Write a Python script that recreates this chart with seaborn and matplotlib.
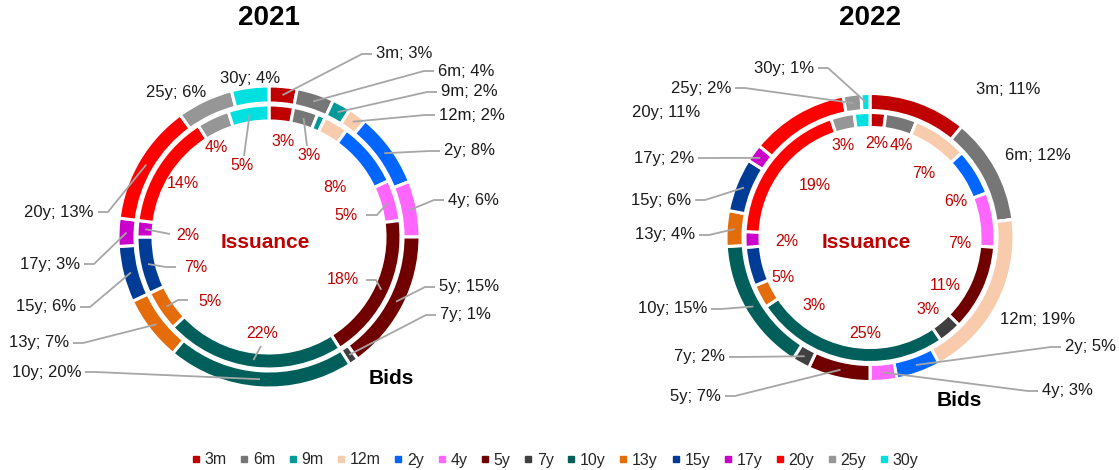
import numpy as np
import matplotlib
matplotlib.use('Agg')
import matplotlib.pyplot as plt
import seaborn as sns
from matplotlib.lines import Line2D

sns.set_theme(style='white')
plt.rcParams['font.family'] = ['Liberation Sans', 'DejaVu Sans']

# Data: share of bids (outer ring) and issuance (inner ring) by tenor, in %
tenors = ['3m', '6m', '9m', '12m', '2y', '4y', '5y', '7y', '10y', '13y', '15y', '17y', '20y', '25y', '30y']
bids_2021 = [3, 4, 2, 2, 8, 6, 15, 1, 20, 7, 6, 3, 13, 6, 4]
issuance_2021 = [3, 3, 1, 3, 8, 5, 18, 0, 22, 5, 7, 2, 14, 4, 5]
bids_2022 = [11, 12, 0, 19, 5, 3, 7, 2, 15, 4, 6, 2, 11, 2, 1]
issuance_2022 = [2, 4, 0, 7, 6, 7, 11, 3, 25, 3, 5, 2, 19, 3, 2]

tenor_colors = ['#C00000', '#767676', '#009999', '#F8CBAD', '#0066FF', '#FF66FF', '#700000', '#404040',
                '#005F5A', '#E46C0A', '#003C96', '#CC00CC', '#FF0000', '#969696', '#00E0E0']
palette = sns.color_palette(tenor_colors)

W, H = 1119, 470
LEAD = '#A6A6A6'
RED = '#C00000'

# Layout (pixel positions, top-left origin) for the data labels
# value: (x, y, ha, leader) ; leader = 'auto', None, or list of points from label side
label_layout = {
    ('2021', 'out'): {
        '3m': (376, 54, 'left', 'auto'), '6m': (438, 71, 'left', 'auto'), '9m': (441, 92, 'left', 'auto'),
        '12m': (439, 115, 'left', 'auto'), '2y': (444, 151, 'left', 'auto'), '4y': (448, 200, 'left', 'auto'),
        '5y': (439, 287, 'left', 'auto'), '7y': (440, 315, 'left', 'auto'), '10y': (81, 372, 'right', 'auto'),
        '13y': (69, 343, 'right', 'auto'), '15y': (76, 307, 'right', 'auto'), '17y': (80, 264, 'right', 'auto'),
        '20y': (94, 212, 'right', 'auto'), '25y': (176, 93, 'center', None), '30y': (250, 79, 'center', None),
    },
    ('2021', 'in'): {
        '3m': (283, 141, 'center', None), '6m': (309, 156, 'center', [(307, 146)]),
        '2y': (335, 187, 'center', None), '4y': (346, 216, 'center', [(366, 215), (377, 215)]),
        '5y': (343, 280, 'center', [(366, 280), (376, 280)]), '10y': (262, 334, 'center', [(261, 346)]),
        '13y': (210, 301, 'center', [(188, 300), (178, 300)]), '15y': (196, 268, 'center', [(176, 267), (166, 267)]),
        '17y': (188, 235, 'center', [(170, 234)]), '20y': (183, 184, 'center', None),
        '25y': (216, 148, 'center', None), '30y': (242, 166, 'center', [(244, 156)]),
    },
    ('2022', 'out'): {
        '3m': (1008, 90, 'center', None), '6m': (1038, 156, 'center', None), '12m': (1038, 319, 'center', None),
        '2y': (1065, 347, 'left', 'auto'), '4y': (1042, 391, 'left', 'auto'), '5y': (721, 396, 'right', 'auto'),
        '7y': (725, 357, 'right', 'auto'), '10y': (707, 309, 'right', 'auto'), '13y': (695, 235, 'right', 'auto'),
        '15y': (691, 200, 'right', 'auto'), '17y': (694, 158, 'right', 'auto'), '20y': (666, 112, 'center', None),
        '25y': (731, 88, 'right', 'auto'), '30y': (814, 68, 'right', 'auto'),
    },
    ('2022', 'in'): {
        '3m': (877, 143, 'center', None), '6m': (901, 146, 'center', None), '12m': (924, 173, 'center', None),
        '2y': (956, 201, 'center', None), '4y': (960, 243, 'center', None), '5y': (945, 285, 'center', None),
        '7y': (928, 310, 'center', None), '10y': (865, 334, 'center', None), '13y': (814, 305, 'center', None),
        '15y': (783, 277, 'center', None), '17y': (787, 241, 'center', None), '20y': (815, 185, 'center', None),
        '25y': (843, 145, 'center', None),
    },
}

# donut geometry: center, outer radius/width, inner radius/width
donuts = [
    ('2021', bids_2021, issuance_2021, (269, 237), (151, 17), (132, 16), (391, 379)),
    ('2022', bids_2022, issuance_2022, (870, 237.5), (144, 17), (125, 15), (959, 401)),
]

fig = plt.figure(figsize=(W / 100, H / 100), dpi=100)
ax = fig.add_axes([0, 0, 1, 1])

for year, bids, iss, center, outer, inner, bids_pos in donuts:
    for vals, (r, w), ring in [(bids, outer, 'out'), (iss, inner, 'in')]:
        ax.pie(vals, radius=r, center=center, colors=palette, startangle=-90, counterclock=True,
               wedgeprops=dict(width=w, edgecolor='white', linewidth=2.2))
        total = float(sum(vals))
        cum = np.cumsum([0] + list(vals))
        layout = label_layout[(year, ring)]
        for i, t in enumerate(tenors):
            if t not in layout or vals[i] == 0:
                continue
            tx, ty, ha, leader = layout[t]
            txt = f'{t}; {vals[i]}%' if ring == 'out' else f'{vals[i]}%'
            ax.text(tx, ty, txt, ha=ha, va='center', fontsize=12 if ring == 'out' else 11.5,
                    color='#1A1A1A' if ring == 'out' else RED, zorder=5)
            if leader is None:
                continue
            frac = (cum[i] + vals[i] / 2) / total
            ang = np.deg2rad(-90 + 360 * frac)
            rm = r - w / 2
            anchor = (center[0] + rm * np.cos(ang), center[1] + rm * np.sin(ang))
            if leader == 'auto':
                s = 1 if ha == 'left' else -1
                pts = [(tx - s * 4, ty), (tx - s * 14, ty)]
            else:
                pts = list(leader)
            pts.append(anchor)
            xs, ys = zip(*pts)
            ax.plot(xs, ys, color=LEAD, lw=1.3, zorder=4, solid_capstyle='butt')

    ax.text(center[0] - 4, center[1] + 5, 'Issuance', ha='center', va='center', fontsize=15,
            fontweight='bold', color=RED)
    ax.text(bids_pos[0], bids_pos[1], 'Bids', ha='center', va='center', fontsize=15,
            fontweight='bold', color='black')
    ax.text(center[0], 18, year, ha='center', va='center', fontsize=20, fontweight='bold', color='black')

ax.set_xlim(0, W)
ax.set_ylim(H, 0)
ax.set_aspect('equal')
ax.axis('off')

handles = [Line2D([], [], marker='s', linestyle='', markersize=4, color=c) for c in palette]
fig.legend(handles, tenors, loc='center', bbox_to_anchor=(0.496, 1 - 460 / H), ncol=15, frameon=False,
           fontsize=11.5, handlelength=0.5, handletextpad=0.3, columnspacing=0.85)

plt.savefig('out.png', dpi=100)
plt.close()
